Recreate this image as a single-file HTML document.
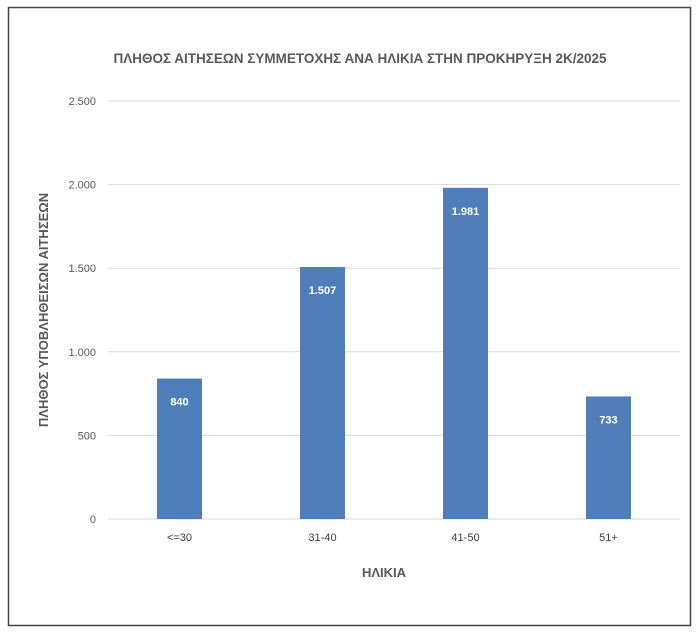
<!DOCTYPE html>
<html><head><meta charset="utf-8"><style>
body{margin:0;background:#fff;font-family:"Liberation Sans",sans-serif;}
svg{display:block}
</style></head><body>
<svg width="700" height="635">
<rect x="8.5" y="7.5" width="682" height="618" fill="#fff" stroke="#444" stroke-width="1.5"/>
<text x="360" y="63" text-anchor="middle" font-size="13.5" font-weight="bold" fill="#595959">ΠΛΗΘΟΣ ΑΙΤΗΣΕΩΝ ΣΥΜΜΕΤΟΧΗΣ ΑΝΑ ΗΛΙΚΙΑ ΣΤΗΝ ΠΡΟΚΗΡΥΞΗ 2Κ/2025</text>
<text transform="translate(48,310) rotate(-90)" text-anchor="middle" font-size="13" font-weight="bold" fill="#595959">ΠΛΗΘΟΣ ΥΠΟΒΛΗΘΕΙΣΩΝ ΑΙΤΗΣΕΩΝ</text>
<text x="384" y="577" text-anchor="middle" font-size="13" font-weight="bold" fill="#595959">ΗΛΙΚΙΑ</text>
<g id="grid"></g><g id="bars"></g>
</svg>
<script>
const categories=["<=30","31-40","41-50","51+"];
const values=[840,1507,1981,733];
const valueLabels=["840","1.507","1.981","733"];
const yTicks=[0,500,1000,1500,2000,2500];
const yTickLabels=["0","500","1.000","1.500","2.000","2.500"];
const NS="http://www.w3.org/2000/svg";
const x0=108,x1=680,yBase=519,yTop=101,yMax=2500;
const y=v=>yBase-(v/yMax)*(yBase-yTop);
const band=(x1-x0)/categories.length;
const xc=i=>x0+band*(i+0.5);
function mk(t,a,p){const e=document.createElementNS(NS,t);for(const k in a)e.setAttribute(k,a[k]);p.appendChild(e);return e;}
const g=document.getElementById('grid'),b=document.getElementById('bars');
yTicks.forEach((v,i)=>{
 const l=mk('line',{x1:x0,x2:x1,y1:y(v),y2:y(v),stroke:'#d9d9d9','stroke-width':1},g);
 
 
 const t=mk('text',{x:96,y:y(v)+4,'text-anchor':'end','font-size':11,fill:'#595959'},g);
 t.textContent=yTickLabels[i];
 
 
});
categories.forEach((c,i)=>{
 const r=mk('rect',{x:xc(i)-22.5,y:y(values[i]),width:45,height:yBase-y(values[i]),fill:'#4f7fba'},b);
 
 
 const t=mk('text',{x:xc(i),y:y(values[i])+27,'text-anchor':'middle','font-size':11,'font-weight':'bold',fill:'#fff'},b);
 t.textContent=valueLabels[i];
 
 
 const xl=mk('text',{x:xc(i),y:541,'text-anchor':'middle','font-size':11,fill:'#404040'},b);
 xl.textContent=c;
 
 
});
</script>
</body></html>
